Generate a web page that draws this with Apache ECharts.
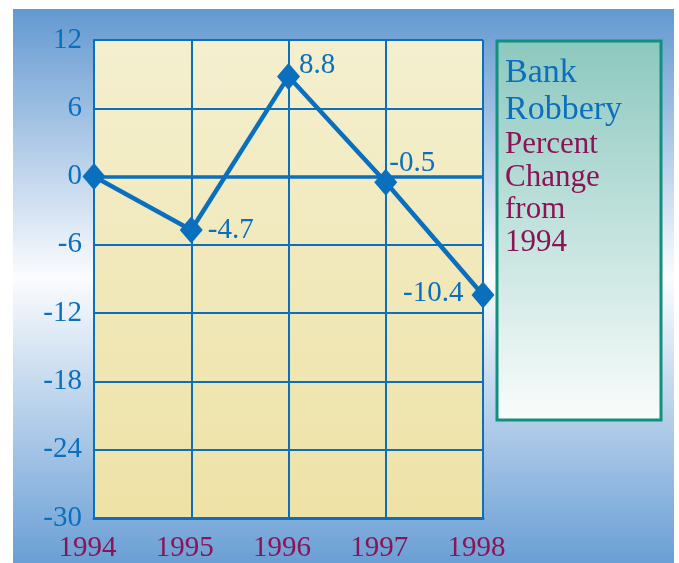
<!DOCTYPE html>
<html>
<head>
<meta charset="utf-8">
<script src="https://cdn.jsdelivr.net/npm/echarts@6/dist/echarts.min.js"></script>
<style>
  html, body { margin: 0; padding: 0; background: #fff; }
  #chart { width: 679px; height: 563px; }
</style>
</head>
<body>
<div id="chart"></div>
<script>
// data
const years = ["1994", "1995", "1996", "1997", "1998"];
const percentChange = [0, -4.7, 8.8, -0.5, -10.4];
const yTicks = { min: -30, max: 12, interval: 6 };
const titleLines = ["Bank", "Robbery"];
const subtitleLines = ["Percent", "Change", "from", "1994"];

// label placement for each point (style only)
const labelPlace = [
  null,
  { position: "right", offset: [0, 0] },
  { position: "right", offset: [-6, -11] },
  { position: "right", offset: [-13, -19] },
  { position: "left", offset: [-3, -2] },
];

const BLUE = "#0a6fbd";
const PURPLE = "#8a1456";
const FONT = "Liberation Serif";

const chart = echarts.init(document.getElementById("chart"));

const seriesData = percentChange.map((v, i) => {
  const p = labelPlace[i];
  return {
    value: v,
    label: p
      ? { show: true, position: p.position, offset: p.offset, distance: 5 }
      : { show: false },
  };
});

const option = {
  backgroundColor: "#ffffff",
  animation: false,
  graphic: [
    {
      type: "rect",
      z: -10,
      shape: { x: 13, y: 9, width: 661, height: 560 },
      style: {
        fill: new echarts.graphic.LinearGradient(0, 0, 0, 1, [
          { offset: 0, color: "#6399d1" },
          { offset: 0.48, color: "#fbfcfe" },
          { offset: 1, color: "#679dd4" },
        ]),
      },
    },
    {
      type: "rect",
      z: -5,
      shape: { x: 497, y: 41, width: 164, height: 379 },
      style: {
        fill: new echarts.graphic.LinearGradient(0, 0, 0, 1, [
          { offset: 0, color: "#8cc8bf" },
          { offset: 1, color: "#fafdfc" },
        ]),
        stroke: "#10907f",
        lineWidth: 3,
      },
    },
  ],
  title: {
    left: 505,
    top: 55,
    padding: 0,
    text:
      titleLines.map((t) => "{a|" + t + "}").join("\n") +
      "\n" +
      subtitleLines.map((t) => "{b|" + t + "}").join("\n"),
    textStyle: {
      fontWeight: "normal",
      rich: {
        a: { fontFamily: FONT, fontSize: 34, fontWeight: "normal", color: BLUE, lineHeight: 37 },
        b: { fontFamily: FONT, fontSize: 31, fontWeight: "normal", color: PURPLE, lineHeight: 32.5 },
      },
    },
  },
  grid: {
    left: 94,
    right: 196,
    top: 40,
    bottom: 41,
    show: true,
    borderWidth: 0,
    backgroundColor: new echarts.graphic.LinearGradient(0, 0, 0, 1, [
      { offset: 0, color: "#f4efcf" },
      { offset: 1, color: "#eee2a6" },
    ]),
  },
  xAxis: {
    type: "category",
    data: years,
    boundaryGap: false,
    axisLine: { onZero: false, lineStyle: { color: BLUE, width: 3 } },
    axisTick: { show: false },
    splitLine: { show: true, interval: 0, lineStyle: { color: BLUE, width: 2 } },
    axisLabel: {
      interval: 0,
      color: PURPLE,
      fontFamily: FONT,
      fontSize: 29,
      margin: 16,
      padding: [0, 13, 0, 0],
    },
  },
  yAxis: {
    type: "value",
    min: yTicks.min,
    max: yTicks.max,
    interval: yTicks.interval,
    axisLine: { show: true, lineStyle: { color: BLUE, width: 2 } },
    axisTick: { show: false },
    splitLine: { show: true, lineStyle: { color: BLUE, width: 2 } },
    axisLabel: {
      color: BLUE,
      fontFamily: FONT,
      fontSize: 29,
      margin: 12,
    },
  },
  series: [
    {
      type: "line",
      data: seriesData,
      symbol: "diamond",
      symbolSize: [23, 27],
      showAllSymbol: true,
      clip: false,
      lineStyle: { color: BLUE, width: 4.5 },
      itemStyle: { color: BLUE },
      label: {
        color: BLUE,
        fontFamily: FONT,
        fontSize: 29,
      },
      markLine: {
        silent: true,
        symbol: "none",
        label: { show: false },
        lineStyle: { color: BLUE, width: 3.5, type: "solid" },
        data: [{ yAxis: 0 }],
        z: 1,
      },
    },
  ],
};

chart.setOption(option);
</script>
</body>
</html>
